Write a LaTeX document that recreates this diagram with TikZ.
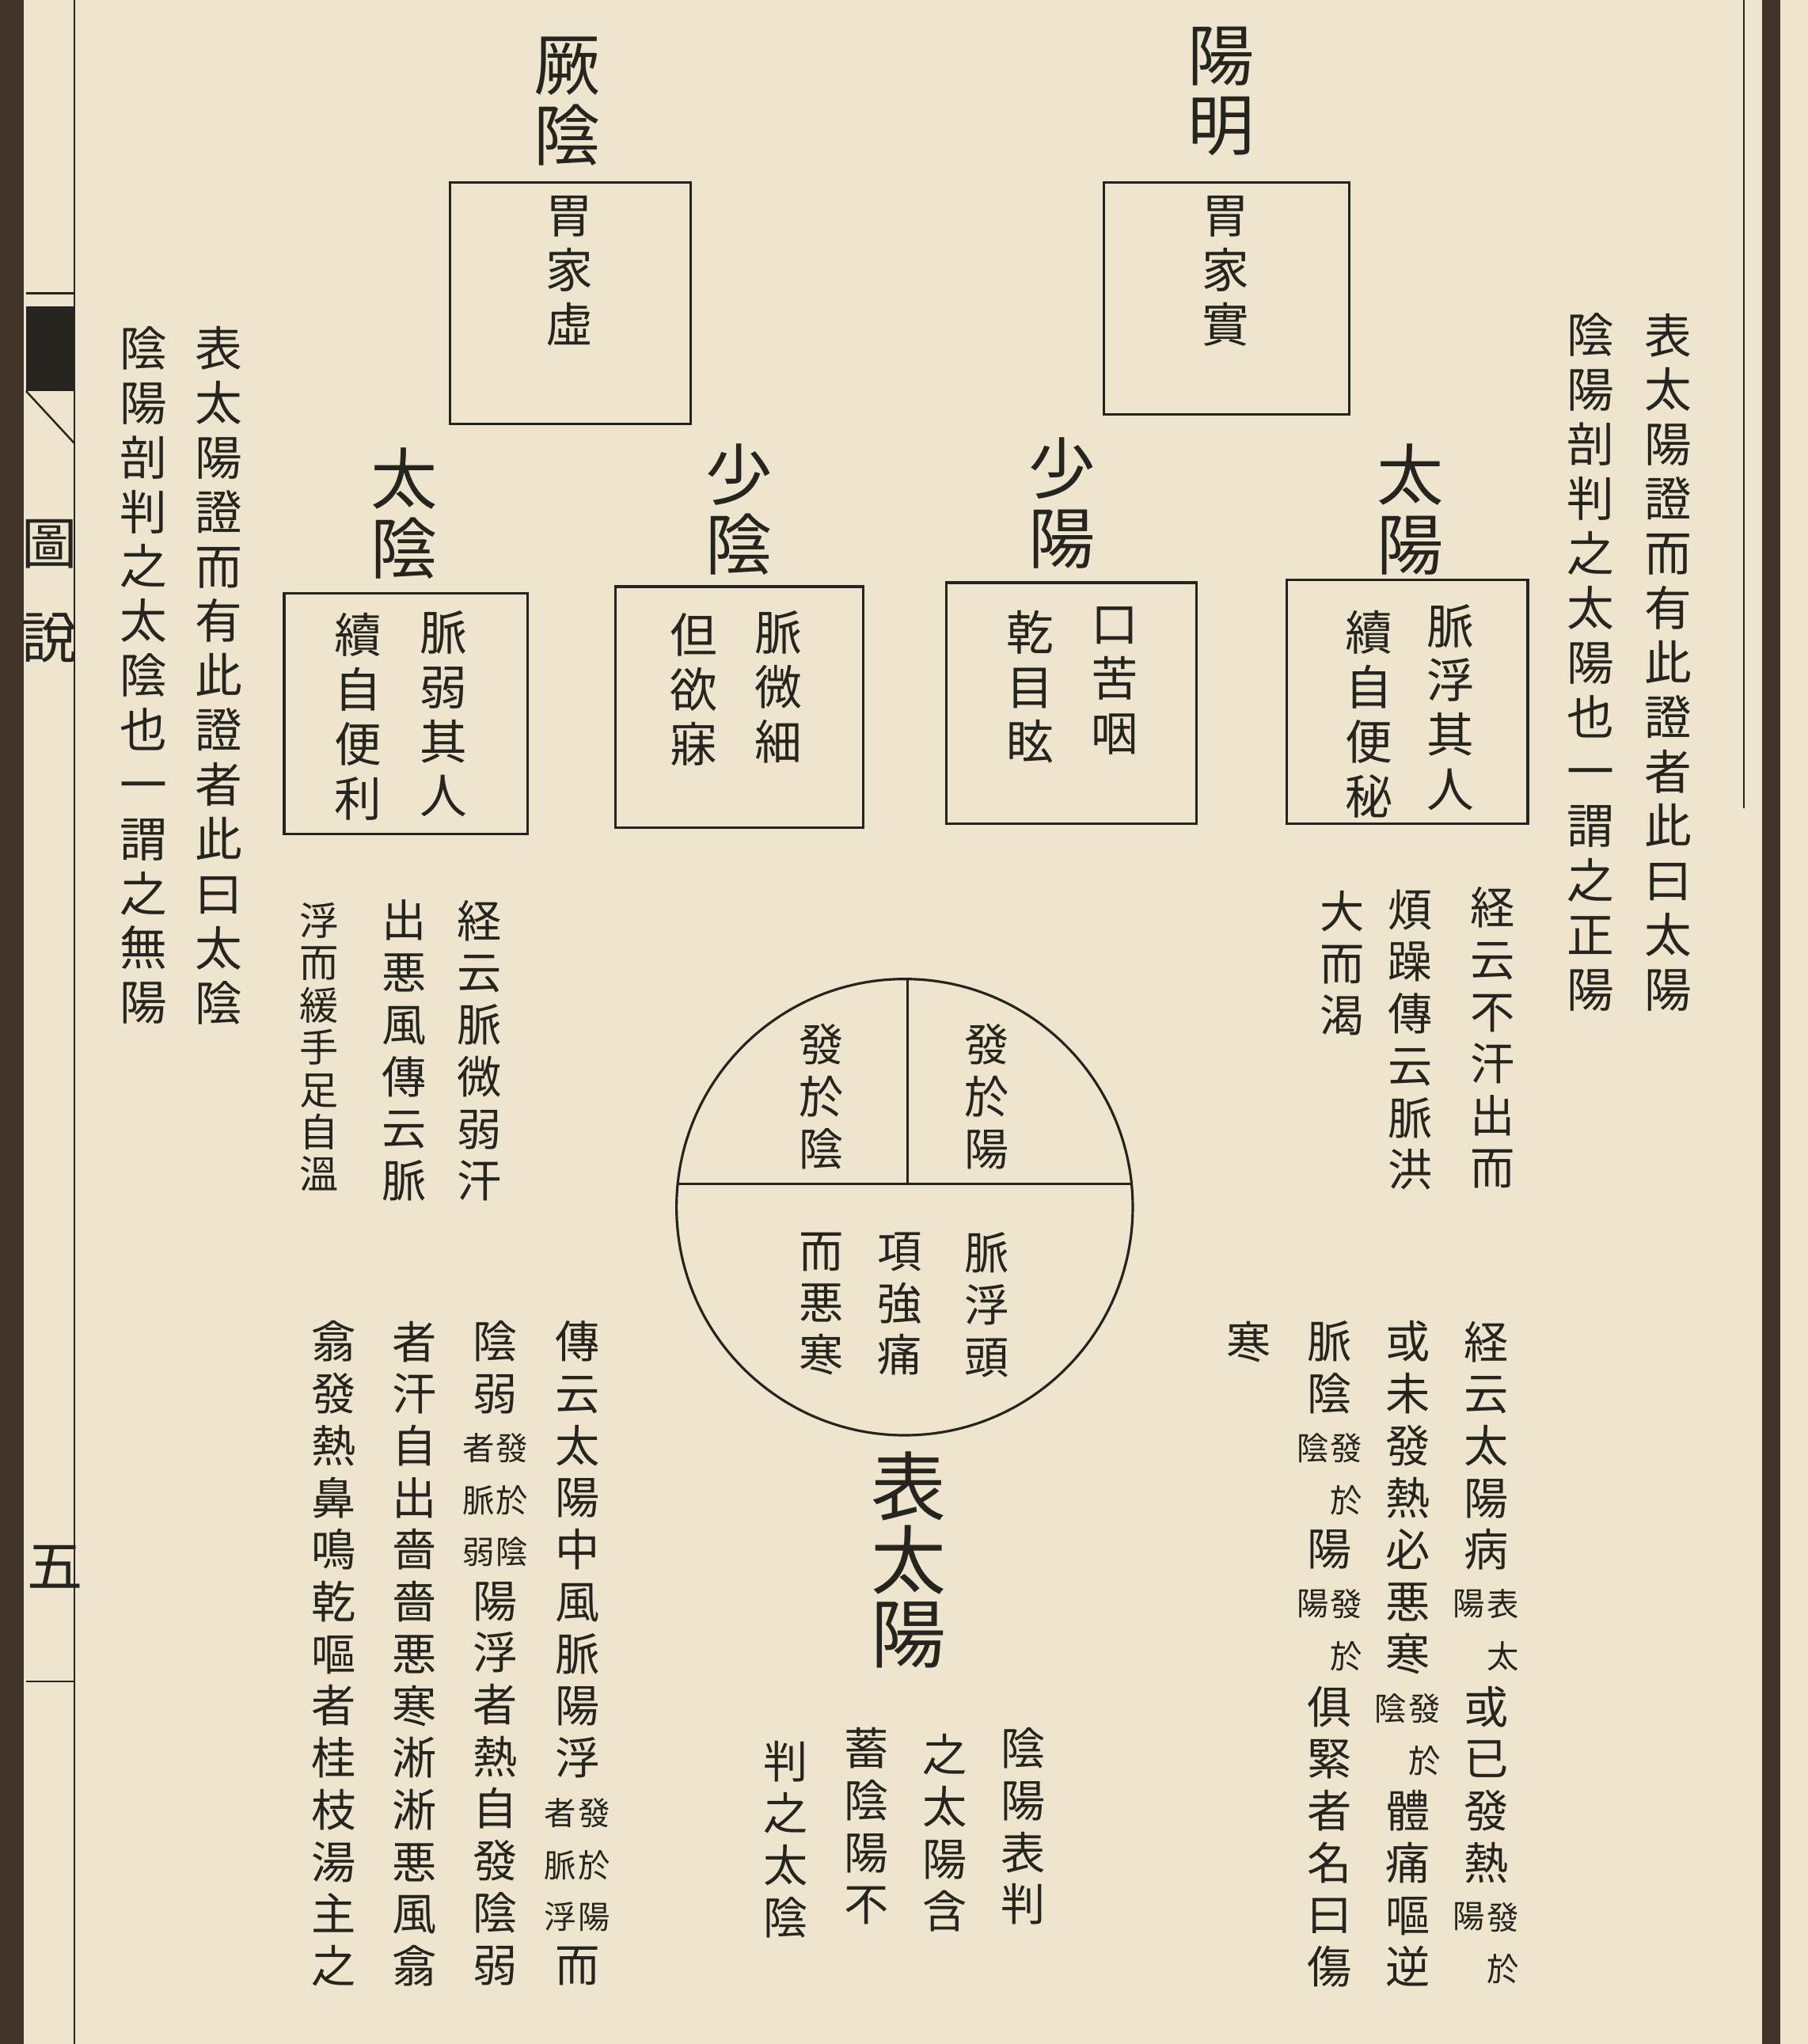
\documentclass[tikz,border=0pt]{standalone}
\usepackage{fontspec}
\setmainfont{Noto Sans CJK JP}
\definecolor{paper}{RGB}{237,229,205}
\definecolor{ink}{RGB}{38,36,30}
\definecolor{edge}{RGB}{62,52,40}

\def\vtEnd{}
\newcommand\vt[1]{\vtA#1\vtEnd}
\def\vtA#1{\ifx#1\vtEnd\else#1\expandafter\vtB\fi}
\def\vtB#1{\ifx#1\vtEnd\else\\#1\expandafter\vtB\fi}

\begin{document}
\begin{tikzpicture}[x=0.1647mm, y=-0.1647mm,
  big/.style={font=\fontsize{24}{25.2}\selectfont, anchor=north, inner sep=0pt, align=center, text=ink},
  huge/.style={font=\fontsize{27}{26.5}\selectfont, anchor=north, inner sep=0pt, align=center, text=ink},
  mid/.style={font=\fontsize{17}{19.6}\selectfont, anchor=north, inner sep=0pt, align=center, text=ink},
  txt/.style={font=\fontsize{16}{18.7}\selectfont, anchor=north, inner sep=0pt, align=center, text=ink},
  tight/.style={font=\fontsize{14}{15.2}\selectfont, anchor=north, inner sep=0pt, align=center, text=ink},
  note/.style={font=\fontsize{11.5}{18.7}\selectfont, anchor=north, inner sep=0pt, align=center, text=ink},
  frame/.style={draw=ink, line width=0.9pt}]

\useasboundingbox (0,0) rectangle (1387,1568);
\fill[paper] (0,0) rectangle (1387,1568);

% page edge and margin
\fill[edge] (0,0) rectangle (18,1568);
\draw[ink, line width=0.7pt] (57,0) -- (57,1568) (20,225) -- (57,225) (20,1290) -- (57,1290);
\fill[ink] (20,235) rectangle (57,300);
\draw[ink, line width=0.7pt] (20,300) -- (57,340);
\node[big, font=\fontsize{20}{34}\selectfont] (tushuo) at (38,398) {\vt{圖說}};
\node[big, font=\fontsize{20}{22}\selectfont] (page) at (42,1185) {五};
\draw[ink, line width=0.6pt] (1338,0) -- (1338,620);
\fill[edge] (1352,0) rectangle (1366,1568);

% upper row
\node[big] (jueyin) at (435,28) {\vt{厥陰}};
\node[big] (yangming) at (937,20) {\vt{陽明}};
\draw[frame] (345,140) rectangle (530,325) (847,140) rectangle (1035,318);
\node[mid] (jueyinA) at (437,150) {\vt{胃家虛}};
\node[mid] (yangmingA) at (940,150) {\vt{胃家實}};

% four channels
\node[big] (taiyin) at (310,343) {\vt{太陰}};
\node[big] (shaoyin) at (567,340) {\vt{少陰}};
\node[big] (shaoyang) at (815,335) {\vt{少陽}};
\node[big] (taiyang) at (1082,340) {\vt{太陽}};
\draw[frame] (218,455) rectangle (405,640) (472,450) rectangle (662,635)
             (726,447) rectangle (918,632) (987,445) rectangle (1172,632);
\node[mid] (taiyinA) at (340,468) {\vt{脈弱其人}};
\node[mid] (taiyinB) at (275,470) {\vt{續自便利}};
\node[mid] (shaoyinA) at (597,468) {\vt{脈微細}};
\node[mid] (shaoyinB) at (532,470) {\vt{但欲寐}};
\node[mid] (shaoyangA) at (855,465) {\vt{口苦咽}};
\node[mid] (shaoyangB) at (790,468) {\vt{乾目眩}};
\node[mid] (taiyangA) at (1113,463) {\vt{脈浮其人}};
\node[mid] (taiyangB) at (1050,468) {\vt{續自便秘}};

% side columns
\node[mid] (rightA) at (1280,240) {\vt{表太陽證而有此證者此曰太陽}};
\node[mid] (rightB) at (1220,240) {\vt{陰陽剖判之太陽也一謂之正陽}};
\node[mid] (leftA) at (168,250) {\vt{表太陽證而有此證者此曰太陰}};
\node[mid] (leftB) at (110,250) {\vt{陰陽剖判之太陰也一謂之無陽}};

% under the boxes
\node[txt] (jingA) at (1145,680) {\vt{経云不汗出而}};
\node[txt] (jingB) at (1082,682) {\vt{煩躁傳云脈洪}};
\node[txt] (jingC) at (1030,683) {\vt{大而渴}};
\node[txt] (jingD) at (368,690) {\vt{経云脈微弱汗}};
\node[txt] (jingE) at (310,690) {\vt{出悪風傳云脈}};
\node[tight] (jingF) at (245,692) {\vt{浮而緩手足自溫}};

% circle
\coordinate (ctr) at (694,926);
\draw[frame] (ctr) circle [radius=175];
\draw[frame] (520,908) -- (868,908) (696,752) -- (696,908);
\node[txt] (faYin) at (630,785) {\vt{發於陰}};
\node[txt] (faYang) at (757,785) {\vt{發於陽}};
\node[txt] (zhengA) at (757,945) {\vt{脈浮頭}};
\node[txt] (zhengB) at (690,945) {\vt{項強痛}};
\node[txt] (zhengC) at (630,945) {\vt{而悪寒}};

\node[huge] (biao) at (697,1113) {\vt{表太陽}};
\node[txt] (panA) at (785,1325) {\vt{陰陽表判}};
\node[txt] (panB) at (725,1330) {\vt{之太陽含}};
\node[txt] (panC) at (665,1325) {\vt{蓄陰陽不}};
\node[txt] (panD) at (603,1335) {\vt{判之太陰}};

% right lower text
\node[txt] (hanA1) at (1140,1013) {\vt{経云太陽病}};
\node[note] (hanA2) at (1153,1219) {\vt{表太}};
\node[note] (hanA3) at (1127,1219) {陽};
\node[txt] (hanA4) at (1140,1293) {\vt{或已發熱}};
\node[note] (hanA5) at (1153,1459) {\vt{發於}};
\node[note] (hanA6) at (1127,1459) {陽};
\node[txt] (hanB1) at (1080,1013) {\vt{或未發熱必悪寒}};
\node[note] (hanB2) at (1093,1299) {\vt{發於}};
\node[note] (hanB3) at (1067,1299) {陰};
\node[txt] (hanB4) at (1080,1373) {\vt{體痛嘔逆}};
\node[txt] (hanC1) at (1020,1013) {\vt{脈陰}};
\node[note] (hanC2) at (1033,1099) {\vt{發於}};
\node[note] (hanC3) at (1007,1099) {陰};
\node[txt] (hanC4) at (1020,1173) {陽};
\node[note] (hanC5) at (1033,1219) {\vt{發於}};
\node[note] (hanC6) at (1007,1219) {陽};
\node[txt] (hanC7) at (1020,1293) {\vt{俱緊者名曰傷}};
\node[txt] (hanD) at (958,1013) {寒};

% left lower text
\node[txt] (fengA1) at (443,1013) {\vt{傳云太陽中風脈陽浮}};
\node[note] (fengA2) at (456,1379) {\vt{發於陽}};
\node[note] (fengA3) at (430,1379) {\vt{者脈浮}};
\node[txt] (fengA4) at (443,1493) {而};
\node[txt] (fengB1) at (380,1013) {\vt{陰弱}};
\node[note] (fengB2) at (393,1099) {\vt{發於陰}};
\node[note] (fengB3) at (367,1099) {\vt{者脈弱}};
\node[txt] (fengB4) at (380,1213) {\vt{陽浮者熱自發陰弱}};
\node[txt] (fengC) at (318,1013) {\vt{者汗自出嗇嗇悪寒淅淅悪風翕}};
\node[txt] (fengD) at (256,1013) {\vt{翕發熱鼻鳴乾嘔者桂枝湯主之}};
\end{tikzpicture}
\end{document}
